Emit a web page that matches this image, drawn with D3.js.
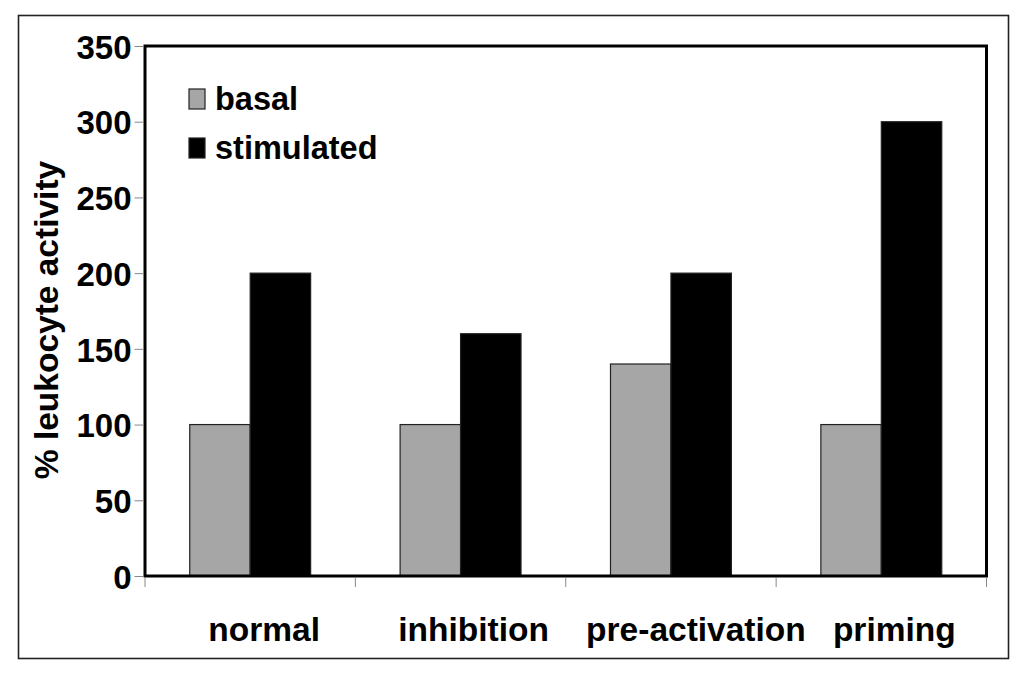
<!DOCTYPE html>
<html>
<head>
<meta charset="utf-8">
<script src="https://cdn.jsdelivr.net/npm/d3@7"></script>
<style>
  body { margin: 0; background: #fff; }
  text { font-family: "Liberation Sans", Arial, sans-serif; font-weight: bold; fill: #000; }
</style>
</head>
<body>
<svg width="1024" height="679"></svg>
<script>
const categories = ["normal", "inhibition", "pre-activation", "priming"]
const seriesNames = ["basal", "stimulated"]
const basal = [100, 100, 140, 100]
const stimulated = [200, 160, 200, 300]
const yTicks = [0, 50, 100, 150, 200, 250, 300, 350]

const colors = { basal: "#a6a6a6", stimulated: "#000000" }
// small horizontal nudges of the category labels, as in the original
const labelDx = { "normal": 14, "inhibition": 13, "pre-activation": 25, "priming": 13 }

const rows = categories.map((c, i) => ({ cat: c, basal: basal[i], stimulated: stimulated[i] }))

const svg = d3.select("svg")

// outer frame
svg.append("rect")
    .attr("x", 18.5)
    .attr("y", 15.5)
    .attr("width", 990)
    .attr("height", 643)
    .attr("fill", "none")
    .attr("stroke", "#222")
    .attr("stroke-width", 1.6)

const plotLeft = 145, plotRight = 986.5, plotTop = 46, plotBottom = 576

const x0 = d3.scaleBand()
    .domain(categories)
    .range([plotLeft, plotRight])
    .padding(0)

const x1 = d3.scaleBand()
    .domain(seriesNames)
    .range([0, x0.bandwidth()])
    .paddingInner(0)
    .paddingOuter(0.74)

const y = d3.scaleLinear()
    .domain([0, 350])
    .range([plotBottom, plotTop])

// bars
const groups = svg.selectAll("g.cat")
    .data(rows)
    .enter()
    .append("g")
    .attr("class", "cat")
    .attr("transform", d => `translate(${x0(d.cat)}, 0)`)

groups.selectAll("rect")
    .data(d => seriesNames.map(s => ({ key: s, value: d[s] })))
    .enter()
    .append("rect")
    .attr("x", d => x1(d.key))
    .attr("y", d => y(d.value))
    .attr("width", x1.bandwidth())
    .attr("height", d => y(0) - y(d.value))
    .attr("fill", d => colors[d.key])
    .attr("stroke", "#222")
    .attr("stroke-width", 1.2)

// plot frame
svg.append("rect")
    .attr("x", plotLeft)
    .attr("y", plotTop)
    .attr("width", plotRight - plotLeft)
    .attr("height", plotBottom - plotTop)
    .attr("fill", "none")
    .attr("stroke", "#000")
    .attr("stroke-width", 3)

// y axis
const yAxis = svg.append("g")
    .attr("transform", `translate(${plotLeft - 1.5}, 0)`)
    .call(d3.axisLeft(y).tickValues(yTicks).tickSize(9).tickPadding(3))

yAxis.select(".domain").remove()
yAxis.selectAll(".tick line").attr("stroke", "#888").attr("stroke-width", 1)
yAxis.selectAll(".tick text")
    .attr("font-size", 33)
    .attr("font-family", "Liberation Sans, Arial, sans-serif")
    .attr("font-weight", "bold")
    .attr("fill", "#000")
    .attr("dy", "0.37em")

// x ticks at band boundaries
const xBounds = categories.map(c => x0(c)).concat([x0(categories[categories.length - 1]) + x0.bandwidth()])
svg.selectAll("line.xtick")
    .data(xBounds)
    .enter()
    .append("line")
    .attr("class", "xtick")
    .attr("x1", d => d)
    .attr("x2", d => d)
    .attr("y1", plotBottom + 2)
    .attr("y2", plotBottom + 11)
    .attr("stroke", "#888")
    .attr("stroke-width", 1)

// category labels
svg.selectAll("text.cat")
    .data(categories)
    .enter()
    .append("text")
    .attr("class", "cat")
    .attr("x", d => x0(d) + x0.bandwidth() / 2 + labelDx[d])
    .attr("y", 641)
    .attr("text-anchor", "middle")
    .attr("font-size", 33.5)
    .text(d => d)

// y axis title
svg.append("text")
    .attr("transform", "translate(58, 320) rotate(-90)")
    .attr("text-anchor", "middle")
    .attr("font-size", 33.5)
    .text("% leukocyte activity")

// legend
const legend = svg.selectAll("g.legend")
    .data(seriesNames)
    .enter()
    .append("g")
    .attr("class", "legend")
    .attr("transform", (d, i) => `translate(189, ${89 + i * 49})`)

legend.append("rect")
    .attr("width", 16)
    .attr("height", 20)
    .attr("fill", d => colors[d])
    .attr("stroke", "#222")
    .attr("stroke-width", 1.2)

legend.append("text")
    .attr("x", 26)
    .attr("y", 21)
    .attr("font-size", 32.5)
    .text(d => d)
</script>
</body>
</html>
